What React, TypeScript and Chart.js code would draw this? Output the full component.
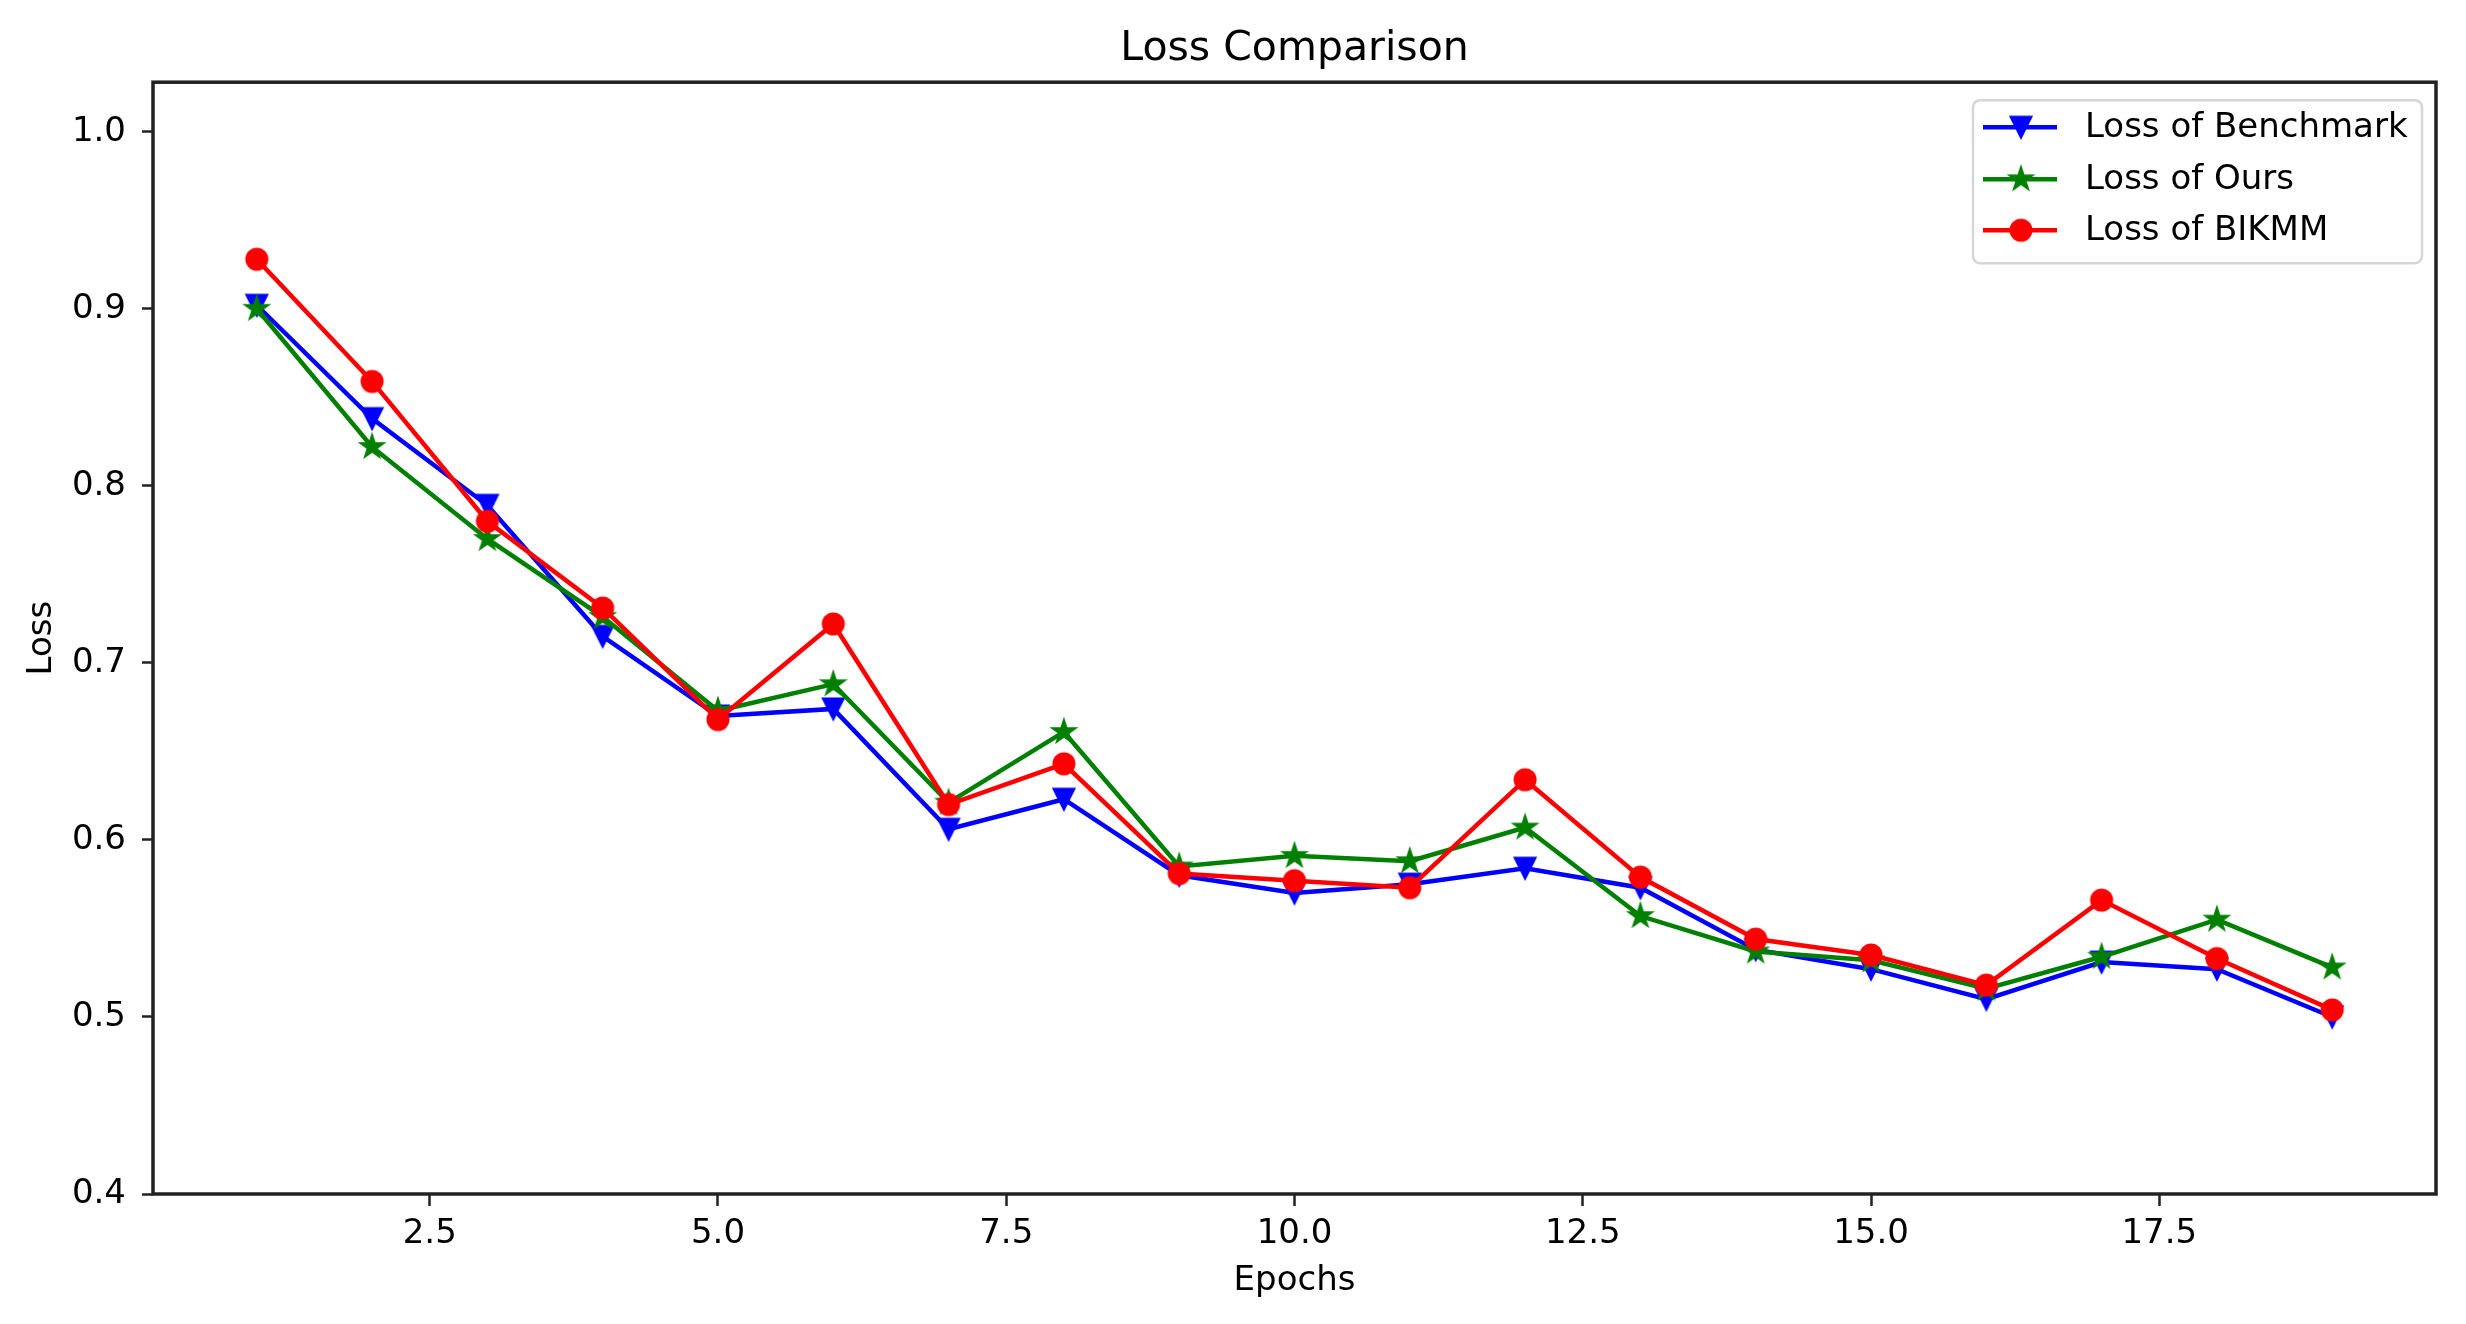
import React, { useEffect, useRef } from 'react';
import { Chart, registerables } from 'chart.js';

Chart.register(...registerables);

const TITLE = 'Loss Comparison';
const X_LABEL = 'Epochs';
const Y_LABEL = 'Loss';

const epochs = [1, 2, 3, 4, 5, 6, 7, 8, 9, 10, 11, 12, 13, 14, 15, 16, 17, 18, 19];
const benchmarkLoss = [0.902, 0.838, 0.789, 0.715, 0.670, 0.674, 0.606, 0.623, 0.580, 0.570, 0.575, 0.584, 0.573, 0.538, 0.527, 0.510, 0.531, 0.527, 0.500];
const oursLoss = [0.900, 0.822, 0.770, 0.726, 0.673, 0.688, 0.621, 0.661, 0.585, 0.591, 0.588, 0.607, 0.557, 0.537, 0.532, 0.516, 0.534, 0.555, 0.528];
const bikmmLoss = [0.928, 0.859, 0.780, 0.731, 0.668, 0.722, 0.620, 0.643, 0.581, 0.577, 0.573, 0.634, 0.579, 0.544, 0.535, 0.518, 0.566, 0.533, 0.504];

const seriesLabels = ['Loss of Benchmark', 'Loss of Ours', 'Loss of BIKMM'];
const seriesColors = ['#0000ff', '#008000', '#ff0000'];
const seriesMarkers = ['triangleDown', 'star', 'circle'];

const xTicks = [2.5, 5.0, 7.5, 10.0, 12.5, 15.0, 17.5];
const yTicks = [0.4, 0.5, 0.6, 0.7, 0.8, 0.9, 1.0];
const xRange = [0.1, 19.9];
const yRange = [0.4, 1.028];

const FONT = '"DejaVu Sans", "Liberation Sans", sans-serif';

function makeMarker(kind: string, color: string): HTMLCanvasElement {
  const size = 32;
  const c = document.createElement('canvas');
  c.width = size;
  c.height = size;
  const ctx = c.getContext('2d')!;
  const cx = size / 2;
  const cy = size / 2;
  ctx.fillStyle = color;
  ctx.strokeStyle = color;
  ctx.lineWidth = 2;
  ctx.lineJoin = 'miter';
  ctx.beginPath();
  if (kind === 'triangleDown') {
    const h = 10.5;
    ctx.moveTo(cx - h, cy - h);
    ctx.lineTo(cx + h, cy - h);
    ctx.lineTo(cx, cy + h);
    ctx.closePath();
  } else if (kind === 'star') {
    const R = 12;
    const r = R * 0.381966;
    for (let i = 0; i < 10; i++) {
      const a = -Math.PI / 2 + (i * Math.PI) / 5;
      const rr = i % 2 === 0 ? R : r;
      const px = cx + rr * Math.cos(a);
      const py = cy + rr * Math.sin(a);
      if (i === 0) ctx.moveTo(px, py);
      else ctx.lineTo(px, py);
    }
    ctx.closePath();
  } else {
    ctx.arc(cx, cy, 10.5, 0, Math.PI * 2);
  }
  ctx.fill();
  ctx.stroke();
  return c;
}

export default function App() {
  const canvasRef = useRef<HTMLCanvasElement | null>(null);

  useEffect(() => {
    const canvas = canvasRef.current;
    if (!canvas) return;
    const markers = seriesMarkers.map((m, i) => makeMarker(m, seriesColors[i]));
    const seriesValues = [benchmarkLoss, oursLoss, bikmmLoss];

    const frameAndLegend = {
      id: 'frameAndLegend',
      afterDraw(chart: any) {
        const { ctx, chartArea } = chart;
        ctx.save();
        // axes frame (all four spines)
        ctx.strokeStyle = '#222';
        ctx.lineWidth = 3.5;
        ctx.strokeRect(chartArea.left, chartArea.top, chartArea.right - chartArea.left, chartArea.bottom - chartArea.top);

        // legend box
        const boxW = 449;
        const boxH = 163;
        const boxX = chartArea.right - 14 - boxW;
        const boxY = chartArea.top + 18;
        const rad = 7;
        ctx.beginPath();
        ctx.moveTo(boxX + rad, boxY);
        ctx.lineTo(boxX + boxW - rad, boxY);
        ctx.arcTo(boxX + boxW, boxY, boxX + boxW, boxY + rad, rad);
        ctx.lineTo(boxX + boxW, boxY + boxH - rad);
        ctx.arcTo(boxX + boxW, boxY + boxH, boxX + boxW - rad, boxY + boxH, rad);
        ctx.lineTo(boxX + rad, boxY + boxH);
        ctx.arcTo(boxX, boxY + boxH, boxX, boxY + boxH - rad, rad);
        ctx.lineTo(boxX, boxY + rad);
        ctx.arcTo(boxX, boxY, boxX + rad, boxY, rad);
        ctx.closePath();
        ctx.fillStyle = 'rgba(255,255,255,0.8)';
        ctx.fill();
        ctx.strokeStyle = '#d6d6d6';
        ctx.lineWidth = 2.5;
        ctx.stroke();

        const rowYs = [27, 79, 130];
        seriesLabels.forEach((label, i) => {
          const y = boxY + rowYs[i];
          ctx.strokeStyle = seriesColors[i];
          ctx.lineWidth = 4.5;
          ctx.beginPath();
          ctx.moveTo(boxX + 10, y);
          ctx.lineTo(boxX + 84, y);
          ctx.stroke();
          const mk = markers[i];
          ctx.drawImage(mk, boxX + 48 - mk.width / 2, y - mk.height / 2);
          ctx.fillStyle = '#000';
          ctx.font = `34px ${FONT}`;
          ctx.textAlign = 'left';
          ctx.textBaseline = 'middle';
          ctx.fillText(label, boxX + 112, y + 1);
        });
        ctx.restore();
      },
    };

    const datasets = seriesLabels.map((label, i) => ({
      label,
      data: epochs.map((e, j) => ({ x: e, y: seriesValues[i][j] })),
      borderColor: seriesColors[i],
      backgroundColor: seriesColors[i],
      borderWidth: 4.5,
      pointStyle: markers[i] as any,
      pointRadius: 11,
      pointHoverRadius: 11,
      tension: 0,
      fill: false,
      order: 2 - i,
    }));

    const chart = new Chart(canvas, {
      type: 'line',
      data: { datasets },
      plugins: [frameAndLegend],
      options: {
        animation: false,
        responsive: false,
        maintainAspectRatio: false,
        devicePixelRatio: 1,
        layout: { padding: { left: 0, right: 30, top: 0, bottom: 0 } },
        plugins: {
          legend: { display: false },
          tooltip: { enabled: false },
          title: {
            display: true,
            fullSize: false,
            text: TITLE,
            color: '#000',
            font: { family: FONT, size: 41, weight: 'normal' },
            padding: { top: 25, bottom: 8 },
          },
        },
        scales: {
          x: {
            type: 'linear',
            min: xRange[0],
            max: xRange[1],
            afterBuildTicks: (scale: any) => {
              scale.ticks = xTicks.map((v) => ({ value: v }));
            },
            afterFit: (scale: any) => {
              scale.height = 130;
            },
            ticks: {
              color: '#000',
              font: { family: FONT, size: 34 },
              padding: 8,
              maxRotation: 0,
              autoSkip: false,
              callback: (v: any) => Number(v).toFixed(1),
            },
            grid: {
              display: true,
              drawOnChartArea: false,
              drawTicks: true,
              tickLength: 12,
              tickWidth: 2.5,
              color: '#222',
            },
            border: { display: false },
            title: {
              display: true,
              text: X_LABEL,
              color: '#000',
              font: { family: FONT, size: 34 },
              padding: { top: 0, bottom: 22 },
            },
          },
          y: {
            type: 'linear',
            min: yRange[0],
            max: yRange[1],
            afterBuildTicks: (scale: any) => {
              scale.ticks = yTicks.map((v) => ({ value: v }));
            },
            afterFit: (scale: any) => {
              scale.width = 153;
            },
            ticks: {
              color: '#000',
              font: { family: FONT, size: 34 },
              padding: 16,
              autoSkip: false,
              callback: (v: any) => Number(v).toFixed(1),
            },
            grid: {
              display: true,
              drawOnChartArea: false,
              drawTicks: true,
              tickLength: 11,
              tickWidth: 2.5,
              color: '#222',
            },
            border: { display: false },
            title: {
              display: true,
              text: Y_LABEL,
              color: '#000',
              font: { family: FONT, size: 34 },
              padding: { top: 22, bottom: 0 },
            },
          },
        },
      } as any,
    });

    return () => {
      chart.destroy();
    };
  }, []);

  return (
    <div style={{ position: 'absolute', left: 0, top: 0, width: 2466, height: 1324, background: '#fff' }}>
      <canvas ref={canvasRef} width={2466} height={1324} style={{ display: 'block', width: 2466, height: 1324 }} />
    </div>
  );
}
